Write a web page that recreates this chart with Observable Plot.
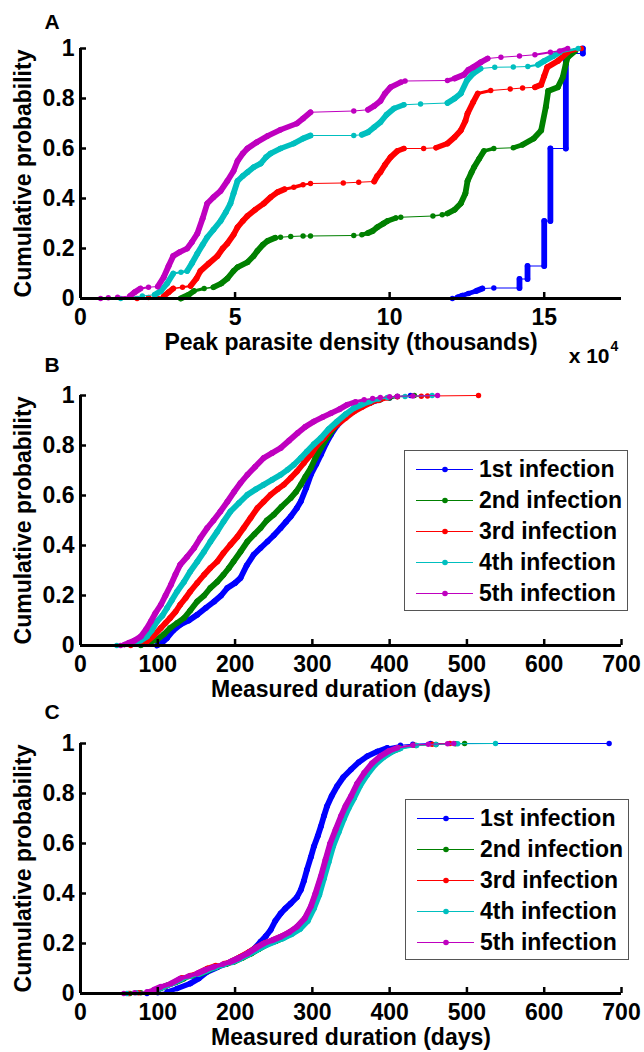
<!DOCTYPE html>
<html>
<head>
<meta charset="utf-8">
<script src="https://cdn.jsdelivr.net/npm/d3@7"></script>
<script src="https://cdn.jsdelivr.net/npm/@observablehq/plot@0.6"></script>
<style>
  body { margin: 0; background: #fff; }
  #wrap { position: relative; width: 644px; height: 1052px; overflow: hidden; background: #fff;
          font-family: "Liberation Sans", Arial, sans-serif; }
  .panel { position: absolute; left: 0; }
  .legend { position: absolute; border: 1px solid #555; background: #fff; box-sizing: border-box; }
  .row { position: absolute; left: 0; height: 31px; display: flex; align-items: center;
         font-weight: bold; font-size: 23px; color: #000; white-space: nowrap; }
</style>
</head>
<body>
<div id="wrap"></div>
<script>
// ---------- data ----------
const infections = ["1st infection", "2nd infection", "3rd infection", "4th infection", "5th infection"];
const colors = ["#0000ff", "#008000", "#ff0000", "#00bfbf", "#bf00bf"];
const yTicks = [0, 0.2, 0.4, 0.6, 0.8, 1];
const aTicks = [0, 5, 10, 15];
const durTicks = [0, 100, 200, 300, 400, 500, 600, 700];

// Panel A: peak parasite density (x 10^4), cumulative probability
const A_1st = [[12.03,0],[12.2,0.005],[12.35,0.012],[12.55,0.02],[12.8,0.03],[13.0,0.04],[13.37,0.042],[14.2,0.042],[14.2,0.078],[14.46,0.078],[14.46,0.13],[15.0,0.13],[15.0,0.31],[15.2,0.31],[15.2,0.6],[15.7,0.6],[15.7,0.98],[16.25,0.98],[16.25,1.0]];
const A_2nd = [[3.24,0],[3.5,0.015],[3.67,0.03],[4.0,0.04],[4.3,0.045],[4.55,0.06],[4.75,0.08],[4.95,0.11],[5.08,0.125],[5.4,0.145],[5.6,0.17],[5.72,0.19],[5.9,0.215],[6.05,0.23],[6.3,0.243],[6.47,0.245],[6.8,0.248],[7.2,0.25],[7.44,0.25],[8.84,0.252],[9.1,0.255],[9.3,0.262],[9.45,0.27],[9.6,0.285],[9.8,0.3],[9.93,0.31],[10.2,0.322],[10.36,0.325],[11.4,0.33],[11.7,0.335],[11.87,0.34],[12.1,0.355],[12.3,0.38],[12.45,0.42],[12.52,0.47],[12.65,0.505],[12.73,0.525],[12.9,0.56],[13.05,0.59],[13.37,0.6],[14.0,0.603],[14.3,0.615],[14.66,0.64],[14.9,0.672],[15.05,0.765],[15.13,0.83],[15.44,0.845],[15.6,0.885],[15.7,0.939],[15.76,0.965],[16.0,0.99]];
const A_3rd = [[1.83,0],[2.2,0.004],[2.7,0.01],[2.85,0.025],[3.0,0.04],[3.3,0.045],[3.56,0.05],[3.75,0.08],[3.88,0.11],[4.15,0.14],[4.43,0.17],[4.6,0.2],[4.75,0.22],[4.95,0.255],[5.08,0.285],[5.25,0.31],[5.4,0.33],[5.65,0.355],[5.93,0.38],[6.15,0.405],[6.37,0.425],[6.6,0.437],[6.9,0.445],[7.2,0.455],[7.44,0.46],[8.5,0.462],[9.0,0.465],[9.5,0.468],[9.6,0.49],[9.7,0.505],[9.85,0.535],[10.03,0.565],[10.25,0.59],[10.46,0.6],[11.1,0.6],[11.5,0.603],[11.87,0.62],[12.1,0.645],[12.3,0.672],[12.45,0.71],[12.52,0.74],[12.7,0.785],[12.85,0.82],[13.27,0.832],[13.9,0.838],[14.3,0.842],[14.7,0.845],[14.9,0.855],[15.0,0.89],[15.1,0.925],[15.44,0.95],[15.76,0.985],[16.2,1.0]];
const A_4th = [[1.3,0],[1.6,0.005],[2.0,0.01],[2.4,0.015],[2.6,0.03],[2.8,0.06],[3.0,0.1],[3.25,0.105],[3.45,0.11],[3.6,0.14],[3.78,0.18],[3.95,0.215],[4.1,0.245],[4.3,0.275],[4.53,0.31],[4.7,0.345],[4.85,0.38],[4.95,0.42],[5.08,0.47],[5.25,0.49],[5.4,0.505],[5.6,0.525],[5.83,0.54],[6.0,0.565],[6.15,0.58],[6.47,0.6],[6.9,0.62],[7.2,0.64],[7.44,0.652],[8.84,0.652],[9.1,0.655],[9.3,0.665],[9.5,0.685],[9.7,0.705],[9.9,0.735],[10.14,0.76],[10.46,0.775],[11.0,0.778],[11.87,0.782],[12.1,0.8],[12.3,0.82],[12.5,0.872],[12.7,0.9],[12.94,0.92],[13.4,0.925],[14.0,0.926],[14.47,0.928],[14.8,0.935],[15.0,0.95],[15.3,0.97],[15.5,0.985],[16.1,1.0]];
const A_5th = [[0.65,0],[0.9,0.003],[1.2,0.005],[1.6,0.01],[1.75,0.025],[1.94,0.04],[2.2,0.045],[2.5,0.048],[2.69,0.085],[2.85,0.13],[3.0,0.17],[3.2,0.185],[3.45,0.2],[3.6,0.225],[3.78,0.26],[3.95,0.32],[4.1,0.38],[4.3,0.405],[4.53,0.43],[4.75,0.47],[4.95,0.51],[5.08,0.55],[5.25,0.58],[5.4,0.6],[5.7,0.625],[6.05,0.65],[6.47,0.675],[7.0,0.7],[7.2,0.72],[7.44,0.745],[8.84,0.75],[9.3,0.755],[9.5,0.77],[9.7,0.79],[9.85,0.82],[10.03,0.845],[10.36,0.865],[10.5,0.87],[11.87,0.872],[12.1,0.88],[12.4,0.895],[12.55,0.915],[12.7,0.925],[12.95,0.945],[13.17,0.96],[13.6,0.965],[14.2,0.97],[14.7,0.975],[15.2,0.985],[15.5,0.99],[15.76,1.0]];

// Panel B: measured duration (days)
const B_1st = [[99,0],[105,0.01],[112,0.03],[120,0.06],[129,0.083],[140,0.1],[151,0.123],[162,0.15],[173,0.176],[182,0.2],[190,0.23],[200,0.25],[207,0.27],[215,0.32],[224,0.363],[233,0.39],[242,0.416],[250,0.44],[259,0.47],[266,0.495],[272,0.516],[280,0.55],[285,0.576],[292,0.63],[298,0.683],[305,0.725],[311,0.763],[318,0.81],[324,0.843],[332,0.88],[341,0.91],[350,0.935],[362,0.956],[375,0.97],[388,0.983],[400,0.99],[410,0.996],[427,1.0]];
const B_2nd = [[78,0],[88,0.01],[99,0.023],[108,0.045],[116,0.07],[125,0.09],[134,0.11],[142,0.14],[151,0.176],[160,0.2],[168,0.23],[177,0.255],[185,0.283],[192,0.31],[198,0.336],[207,0.375],[216,0.416],[225,0.445],[233,0.47],[241,0.5],[250,0.523],[260,0.555],[272,0.59],[279,0.615],[285,0.643],[291,0.675],[298,0.71],[304,0.75],[311,0.79],[319,0.83],[328,0.87],[336,0.9],[345,0.923],[356,0.945],[367,0.963],[378,0.975],[388,0.983],[400,0.99],[410,0.996],[432,1.0]];
const B_3rd = [[65,0],[75,0.008],[86,0.016],[95,0.04],[104,0.07],[110,0.09],[116,0.11],[123,0.135],[129,0.163],[136,0.19],[142,0.216],[151,0.25],[160,0.283],[168,0.31],[177,0.336],[185,0.37],[194,0.403],[203,0.435],[211,0.47],[220,0.51],[229,0.55],[237,0.575],[246,0.603],[255,0.625],[263,0.643],[272,0.67],[280,0.696],[289,0.73],[298,0.763],[306,0.8],[315,0.83],[323,0.86],[332,0.883],[343,0.91],[354,0.936],[365,0.955],[375,0.97],[386,0.98],[397,0.99],[410,0.995],[441,0.997],[449,0.998],[515,1.0]];
const B_4th = [[47,0],[60,0.005],[69,0.01],[78,0.02],[86,0.036],[92,0.06],[99,0.096],[106,0.12],[112,0.15],[118,0.18],[125,0.216],[134,0.255],[142,0.296],[151,0.335],[160,0.376],[168,0.415],[177,0.456],[185,0.495],[194,0.536],[205,0.57],[216,0.603],[227,0.625],[237,0.643],[248,0.663],[259,0.683],[268,0.703],[276,0.723],[285,0.75],[293,0.776],[302,0.805],[311,0.83],[321,0.865],[332,0.896],[343,0.925],[354,0.95],[365,0.965],[375,0.976],[386,0.986],[397,0.992],[420,0.996],[455,1.0]];
const B_5th = [[52,0],[57,0.004],[62,0.01],[70,0.02],[78,0.036],[85,0.065],[91,0.096],[97,0.13],[104,0.163],[110,0.2],[117,0.243],[123,0.285],[129,0.323],[138,0.355],[147,0.39],[155,0.43],[164,0.47],[172,0.5],[181,0.536],[190,0.575],[199,0.616],[207,0.65],[216,0.683],[226,0.715],[237,0.75],[248,0.77],[259,0.79],[270,0.82],[281,0.85],[291,0.875],[302,0.896],[313,0.913],[324,0.929],[335,0.945],[345,0.963],[356,0.975],[367,0.983],[378,0.988],[388,0.992],[400,0.995],[410,0.997],[430,0.998],[462,1.0]];

// Panel C: measured duration (days)
const C_1st = [[86,0],[100,0.003],[112,0.007],[125,0.02],[142,0.04],[153,0.06],[164,0.087],[177,0.105],[190,0.12],[203,0.14],[216,0.16],[225,0.18],[233,0.207],[240,0.23],[246,0.254],[252,0.29],[259,0.32],[265,0.34],[272,0.36],[280,0.385],[285,0.414],[289,0.45],[293,0.495],[298,0.545],[302,0.588],[307,0.63],[311,0.668],[315,0.71],[319,0.749],[325,0.79],[332,0.829],[340,0.865],[350,0.896],[360,0.925],[371,0.949],[384,0.968],[397,0.983],[414,0.993],[430,0.997],[453,1.0],[684,1.0]];
const C_2nd = [[64,0],[78,0.003],[92,0.008],[103,0.02],[112,0.032],[123,0.045],[134,0.06],[145,0.07],[156,0.08],[167,0.095],[178,0.107],[189,0.117],[199,0.127],[210,0.143],[221,0.16],[231,0.178],[242,0.197],[253,0.21],[263,0.224],[274,0.242],[284,0.263],[294,0.297],[301,0.345],[308,0.398],[314,0.465],[320,0.53],[326,0.596],[333,0.65],[340,0.705],[346,0.747],[353,0.786],[361,0.836],[370,0.878],[380,0.917],[391,0.946],[402,0.967],[413,0.981],[434,0.992],[460,0.996],[485,0.999],[497,1.0]];
const C_3rd = [[62,0],[75,0.003],[90,0.008],[100,0.018],[110,0.03],[120,0.042],[131,0.062],[142,0.072],[153,0.083],[164,0.1],[175,0.112],[186,0.12],[196,0.13],[207,0.147],[218,0.166],[228,0.185],[239,0.203],[250,0.215],[260,0.228],[271,0.246],[281,0.268],[291,0.302],[299,0.35],[305,0.402],[312,0.47],[318,0.537],[324,0.6],[331,0.655],[338,0.708],[344,0.75],[351,0.788],[359,0.838],[368,0.88],[378,0.918],[389,0.947],[400,0.968],[411,0.982],[432,0.993],[455,0.997],[478,1.0]];
const C_4th = [[60,0],[72,0.003],[88,0.007],[98,0.015],[106,0.025],[119,0.04],[131,0.058],[142,0.068],[153,0.078],[164,0.092],[175,0.104],[186,0.115],[196,0.125],[207,0.14],[218,0.157],[229,0.175],[240,0.193],[251,0.207],[262,0.22],[273,0.237],[284,0.258],[294,0.29],[302,0.34],[309,0.395],[315,0.46],[321,0.525],[327,0.59],[334,0.645],[341,0.7],[347,0.742],[354,0.782],[362,0.832],[371,0.875],[381,0.915],[392,0.945],[403,0.967],[414,0.98],[435,0.992],[460,0.996],[488,0.999],[537,1.0]];
const C_5th = [[56,0],[70,0.003],[86,0.007],[95,0.015],[104,0.027],[117,0.04],[129,0.06],[140,0.07],[151,0.08],[162,0.095],[173,0.107],[184,0.117],[194,0.127],[205,0.142],[216,0.16],[226,0.18],[237,0.2],[248,0.213],[259,0.227],[270,0.245],[280,0.267],[290,0.3],[298,0.348],[304,0.4],[311,0.468],[317,0.535],[323,0.6],[330,0.655],[337,0.709],[343,0.75],[350,0.789],[358,0.84],[367,0.882],[377,0.92],[388,0.949],[399,0.97],[410,0.983],[430,0.993],[450,0.997],[475,0.999],[483,1.0]];

// ---------- drawing ----------
const FONT = '"Liberation Sans", Arial, Helvetica, sans-serif';
const W = 644, ML = 80, MR = 23;

function panel(cfg) {
  const {series, xDomain, xTicks, height, marginTop, marginBottom, xLabel, letter, letterDy} = cfg;
  const iw = W - ML - MR, ih = height - marginTop - marginBottom;
  const kx = iw / (xDomain[1] - xDomain[0]);
  const marks = [];
  series.forEach((pts, i) => {
    const segs = pts.slice(1).map((p, j) => {
      const q = pts[j];
      const dxp = Math.abs(p[0] - q[0]) * kx, dyp = Math.abs(p[1] - q[1]) * ih;
      const s = dyp / Math.max(dxp, 1e-6);
      const t = Math.max(0, Math.min(1, (s - 0.1) / 0.3));
      return {x1: q[0], y1: q[1], x2: p[0], y2: p[1], w: 1 + 4.8 * t};
    });
    marks.push(Plot.link(segs, {x1: "x1", y1: "y1", x2: "x2", y2: "y2", stroke: colors[i], strokeWidth: "w", strokeLinecap: "round"}));
    marks.push(Plot.dot(pts, {x: d => d[0], y: d => d[1], r: 2.7, fill: colors[i]}));
  });
  marks.push(
    Plot.ruleY([0], {stroke: "black", strokeWidth: 3}),
    Plot.ruleX([xDomain[0]], {stroke: "black", strokeWidth: 3}),
    Plot.tickY(yTicks, {y: d => d, insetRight: iw - 6, stroke: "black", strokeWidth: 2.5}),
    Plot.tickX(xTicks, {x: d => d, insetTop: ih - 6, stroke: "black", strokeWidth: 2.5}),
    Plot.axisY({ticks: yTicks, tickSize: 0, tickPadding: 6, tickFormat: d => String(d), label: null, fill: "black"}),
    Plot.axisX({ticks: xTicks, tickSize: 0, tickPadding: 10, tickFormat: d => String(d), label: null, fill: "black"}),
    Plot.text(["Cumulative probability"], {text: d => d, frameAnchor: "left", textAnchor: "middle", lineAnchor: "middle", rotate: -90, dx: -57, fill: "black"}),
    Plot.text([xLabel], {text: d => d, frameAnchor: "bottom", textAnchor: "middle", lineAnchor: "middle", dy: 44, fill: "black"}),
    Plot.text([letter], {text: d => d, frameAnchor: "top-left", textAnchor: "start", lineAnchor: "middle", dx: -36, dy: letterDy, fontSize: 21, fill: "black"})
  );
  if (cfg.extra) marks.push(...cfg.extra);
  return Plot.plot({
    width: W, height, marginLeft: ML, marginRight: MR, marginTop, marginBottom,
    x: {domain: xDomain}, y: {domain: [0, 1]},
    style: {background: "transparent", overflow: "visible", fontFamily: FONT, fontSize: "23px", fontWeight: "bold", color: "black"},
    marks
  });
}

function legend(left, top) {
  const box = document.createElement("div");
  box.className = "legend";
  Object.assign(box.style, {left: left + "px", top: top + "px", width: "224px", height: "161px"});
  infections.forEach((name, i) => {
    const row = document.createElement("div");
    row.className = "row";
    row.style.top = Math.round(18 + i * 31.2 - 15.5) + "px";
    row.innerHTML = `<svg width="74" height="31" style="display:block"><line x1="11" x2="68" y1="15.5" y2="15.5" stroke="${colors[i]}" stroke-width="1"/><circle cx="40" cy="15.5" r="2.8" fill="${colors[i]}"/></svg><span>${name}</span>`;
    box.appendChild(row);
  });
  return box;
}

const wrap = document.getElementById("wrap");
function place(node, top) {
  const d = document.createElement("div");
  d.className = "panel";
  d.style.top = top + "px";
  d.appendChild(node);
  wrap.appendChild(d);
}

const pA = panel({
  series: [A_1st, A_2nd, A_3rd, A_4th, A_5th], xDomain: [0, 17.5], xTicks: aTicks,
  height: 365, marginTop: 48, marginBottom: 67, xLabel: "Peak parasite density (thousands)", letter: "A", letterDy: -26,
  extra: [
    Plot.text(["x 10"], {text: d => d, frameAnchor: "bottom-right", textAnchor: "end", lineAnchor: "middle", dx: -12, dy: 58, fontSize: 21, fill: "black"}),
    Plot.text(["4"], {text: d => d, frameAnchor: "bottom-right", textAnchor: "start", lineAnchor: "middle", dx: -11, dy: 48, fontSize: 14, fill: "black"})
  ]
});
const pB = panel({
  series: [B_1st, B_2nd, B_3rd, B_4th, B_5th], xDomain: [0, 700], xTicks: durTicks,
  height: 365, marginTop: 50, marginBottom: 65, xLabel: "Measured duration (days)", letter: "B", letterDy: -30
});
const pC = panel({
  series: [C_1st, C_2nd, C_3rd, C_4th, C_5th], xDomain: [0, 700], xTicks: durTicks,
  height: 357, marginTop: 48, marginBottom: 59, xLabel: "Measured duration (days)", letter: "C", letterDy: -31
});
place(pA, 0);
place(pB, 345);
place(pC, 695);
wrap.appendChild(legend(404, 450));
wrap.appendChild(legend(405, 799));
</script>
</body>
</html>
